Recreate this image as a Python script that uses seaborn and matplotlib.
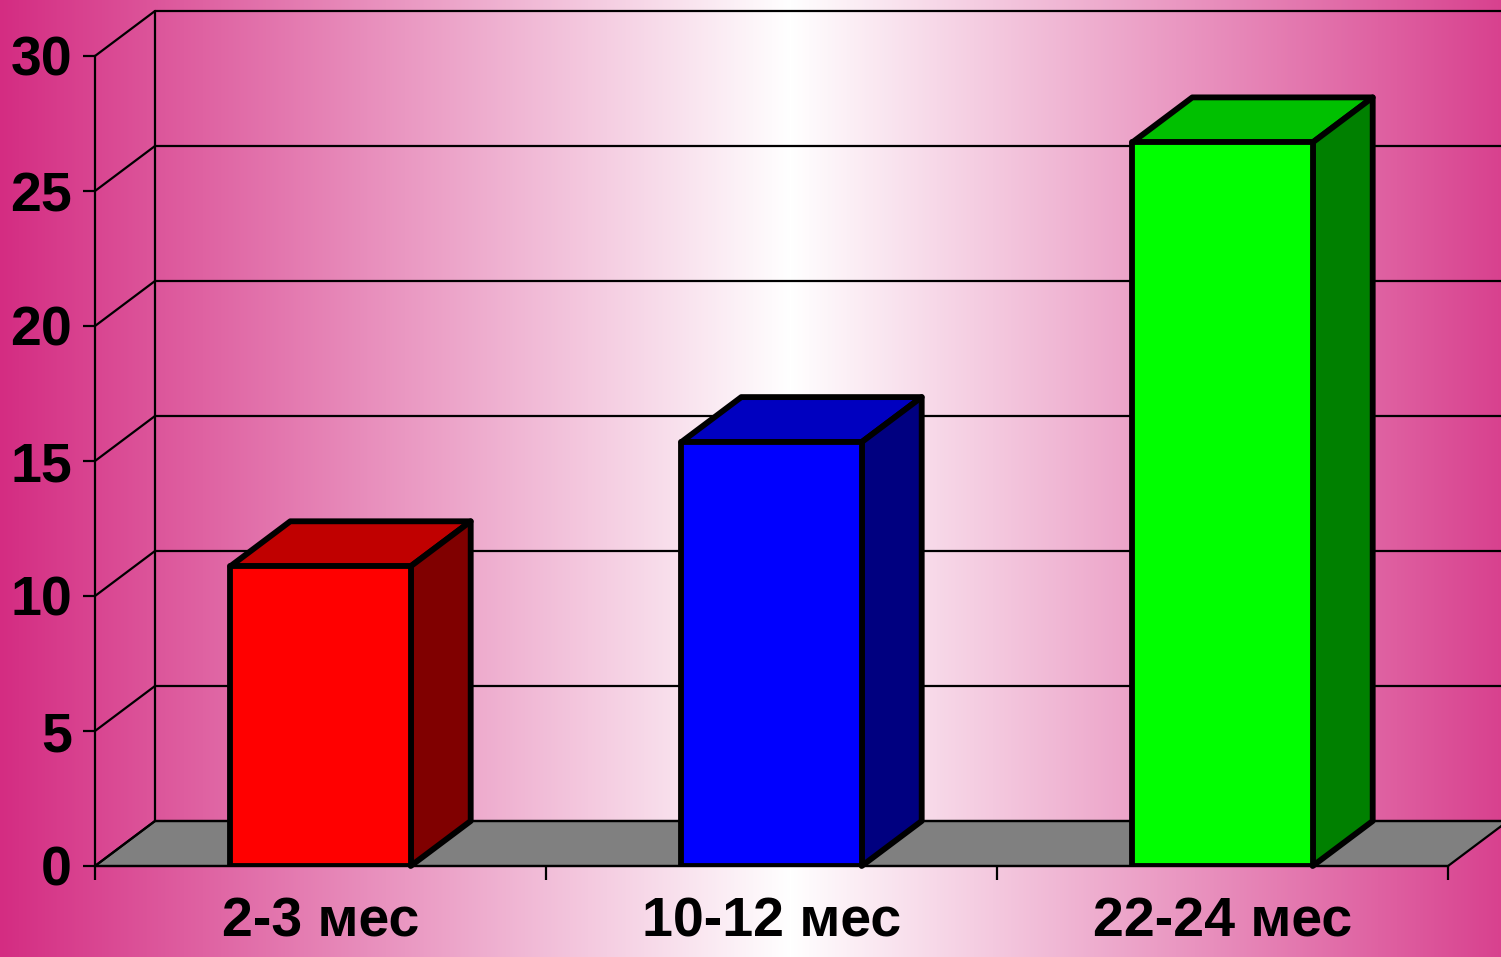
import numpy as np
import pandas as pd
import matplotlib
matplotlib.use("Agg")
import matplotlib.pyplot as plt
from matplotlib.patches import Polygon
import seaborn as sns

# Data
categories = ["2-3 мес", "10-12 мес", "22-24 мес"]
values = [11.1, 15.7, 26.8]
front_colors = ["#FF0000", "#0000FF", "#00FF00"]
top_colors = ["#C00000", "#0000C0", "#00C000"]
side_colors = ["#800000", "#000080", "#008000"]
y_ticks = [0, 5, 10, 15, 20, 25, 30]

sns.set_theme(style="white")
plt.rcParams["font.family"] = ["Liberation Sans", "DejaVu Sans"]
plt.rcParams["font.weight"] = "bold"

W, H = 1501, 957
fig = plt.figure(figsize=(W / 100, H / 100), dpi=100)

# Horizontal pink-to-white-to-pink gradient backdrop
bg = fig.add_axes([0, 0, 1, 1], zorder=-10)
edge = np.array([212, 44, 130]) / 255.0
xs = np.arange(W)
t = np.clip(np.abs(xs - 790) / 790.0, 0, 1)[:, None]
row = (1 - t) * np.ones(3) + t * edge
img = np.repeat(row[None, :, :], 2, axis=0)
bg.imshow(img, aspect="auto", extent=[0, 1, 0, 1])
bg.set_axis_off()

ax = fig.add_axes([95 / W, (H - 866) / H, (1448 - 95) / W, (866 - 56) / H])
ax.set_facecolor("none")
ax.set_xlim(-0.5, 2.5)
ax.set_ylim(0, 30)

# Depth of the 3-D box in data units
dx = 60 / ((1448 - 95) / 3)
dy = 45 / ((866 - 56) / 30)
x0, x1 = -0.5, 2.5
lw_axis = 1.6
lw_bar = 4.2

# Floor
ax.add_patch(Polygon([(x0, 0), (x1, 0), (x1 + dx, dy), (x0 + dx, dy)], closed=True,
                     facecolor="#808080", edgecolor="black", lw=lw_axis,
                     clip_on=False, zorder=1))

# Back wall gridlines and left wall diagonals
for v in y_ticks:
    ax.plot([x0 + dx, x1 + dx + 0.2], [v + dy, v + dy], color="black", lw=lw_axis,
            clip_on=False, zorder=1.5)
    ax.plot([x0, x0 + dx], [v, v + dy], color="black", lw=lw_axis,
            clip_on=False, zorder=1.5)
ax.plot([x0 + dx, x0 + dx], [dy, 30 + dy], color="black", lw=lw_axis,
        clip_on=False, zorder=1.5)

df = pd.DataFrame({"period": categories, "value": values})
sns.barplot(data=df, x="period", y="value", hue="period", palette=front_colors,
            hue_order=categories, order=categories, width=0.4, saturation=1,
            legend=False, edgecolor="black", linewidth=lw_bar, ax=ax, zorder=3)

# Top and side faces of every column
for p in ax.patches:
    if not hasattr(p, "get_x") or p.get_height() <= 0:
        continue
    bx0, bw, h = p.get_x(), p.get_width(), p.get_height()
    bx1 = bx0 + bw
    i = int(round(bx0 + bw / 2))
    p.set_joinstyle("round")
    top = Polygon([(bx0, h), (bx1, h), (bx1 + dx, h + dy), (bx0 + dx, h + dy)], closed=True,
                  facecolor=top_colors[i], edgecolor="black", lw=lw_bar,
                  joinstyle="round", clip_on=False, zorder=2.9)
    side = Polygon([(bx1, 0), (bx1 + dx, dy), (bx1 + dx, h + dy), (bx1, h)], closed=True,
                   facecolor=side_colors[i], edgecolor="black", lw=lw_bar,
                   joinstyle="round", clip_on=False, zorder=2.9)
    ax.add_patch(top)
    ax.add_patch(side)

# Axes
for s in ["top", "right"]:
    ax.spines[s].set_visible(False)
for s in ["left", "bottom"]:
    ax.spines[s].set_visible(True)
    ax.spines[s].set_color("black")
    ax.spines[s].set_linewidth(lw_axis)
    ax.spines[s].set_zorder(4)

ax.set_yticks(y_ticks)
ax.set_yticklabels([str(v) for v in y_ticks])
ax.set_xticks(range(len(categories)))
ax.set_xticklabels(categories)
ax.set_xticks([-0.5, 0.5, 1.5, 2.5], minor=True)
ax.tick_params(axis="y", which="major", direction="out", length=8.5, width=lw_axis,
               color="black", pad=8, labelsize=40, labelcolor="black", left=True)
ax.tick_params(axis="x", which="major", length=0, pad=22, labelsize=40,
               labelcolor="black", bottom=True)
ax.tick_params(axis="x", which="minor", direction="out", length=10, width=lw_axis,
               color="black", bottom=True)
for lab in ax.get_xticklabels() + ax.get_yticklabels():
    lab.set_fontweight("bold")
ax.set_xlabel("")
ax.set_ylabel("")
ax.grid(False)

fig.savefig("out.png", dpi=100)
